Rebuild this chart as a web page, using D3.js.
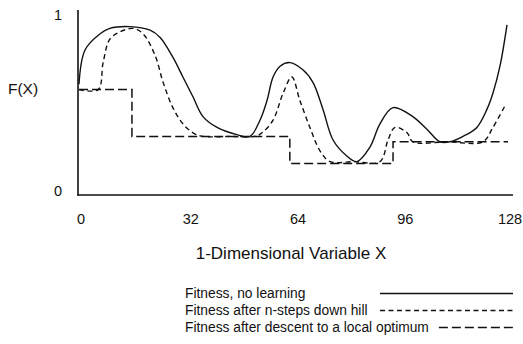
<!DOCTYPE html>
<html>
<head>
<meta charset="utf-8">
<script src="https://cdnjs.cloudflare.com/ajax/libs/d3/7.8.5/d3.min.js"></script>
<style>
  body { margin: 0; background: #fff; }
  svg { display: block; font-family: "Liberation Sans", Arial, sans-serif; }
</style>
</head>
<body>
<svg width="523" height="344"></svg>
<script>
// data (x in 0..128, F(X) in 0..1)
const noLearnX = [0, 1.8, 6.3, 9.2, 15.2, 21.2, 24.2, 28.0, 31.0, 34.0, 37.0, 41.2, 47.1, 51.0, 54.0, 56.1, 57.9, 60.0, 62.9, 66.8, 69.8, 72.8, 75.8, 80.0, 82.9, 86.8, 89.8, 93.7, 99.6, 103.8, 107.7, 110.7, 114.6, 118.7, 121.7, 123.5, 125.6, 127.7];
const noLearnY = [0.61, 0.80, 0.89, 0.92, 0.93, 0.91, 0.87, 0.76, 0.65, 0.54, 0.43, 0.37, 0.33, 0.32, 0.41, 0.52, 0.65, 0.71, 0.73, 0.69, 0.62, 0.47, 0.30, 0.21, 0.18, 0.26, 0.39, 0.48, 0.43, 0.36, 0.29, 0.29, 0.32, 0.37, 0.47, 0.56, 0.71, 0.94];

const nStepsX = [0, 5.7, 7.2, 9.2, 12.2, 16.1, 19.1, 22.7, 25.1, 28.0, 31.0, 34.0, 37.0, 45.0, 52.5, 54.6, 57.9, 60.9, 63.5, 65.9, 68.9, 71.9, 74.9, 82.0, 89.8, 92.2, 94.3, 97.9, 99.6, 110.0, 120.5, 123.5, 127.1];
const nStepsY = [0.58, 0.58, 0.73, 0.86, 0.90, 0.92, 0.89, 0.77, 0.62, 0.48, 0.39, 0.34, 0.32, 0.32, 0.32, 0.34, 0.41, 0.56, 0.65, 0.52, 0.37, 0.24, 0.18, 0.18, 0.18, 0.30, 0.37, 0.34, 0.29, 0.29, 0.29, 0.37, 0.49];

const localX = [0, 15.8, 62.9, 93.7, 128];
const localY = [0.58, 0.32, 0.17, 0.29, 0.29];

const xTicks = [0, 32, 64, 96, 128];
const yTicks = [0, 1];
const legendLabels = [
  "Fitness, no learning",
  "Fitness after n-steps down hill",
  "Fitness after descent to a local optimum"
];

const svg = d3.select("svg");
const ink = "#111";

const x = d3.scaleLinear().domain([0, 128]).range([79, 508]);
const y = d3.scaleLinear().domain([0, 1]).range([194, 14]);

// axes
const xAxis = svg.append("g")
  .attr("transform", `translate(0,${y(0) + 1})`)
  .call(d3.axisBottom(x).tickValues(xTicks).tickFormat(d3.format("d")).tickSize(0).tickPadding(19));
xAxis.select(".domain").remove();
xAxis.selectAll(".tick text")
  .attr("font-size", 14.5).attr("fill", ink)
  .attr("dx", (d) => d === 0 || d === 128 ? 1.5 : 4)
  .attr("font-family", "Liberation Sans, Arial, sans-serif");

const yAxis = svg.append("g")
  .attr("transform", `translate(${x(0) - 1},0)`)
  .call(d3.axisLeft(y).tickValues(yTicks).tickFormat(d3.format("d")).tickSize(0).tickPadding(16));
yAxis.select(".domain").remove();
yAxis.selectAll(".tick text")
  .attr("font-size", 14.5).attr("fill", ink)
  .attr("dy", (d) => d === 0 ? "0.1em" : "0.4em")
  .attr("font-family", "Liberation Sans, Arial, sans-serif");

// axis lines
svg.append("line")
  .attr("x1", x(0) - 1).attr("x2", x(0) - 1)
  .attr("y1", y(1) - 4).attr("y2", y(0) + 1.5)
  .attr("stroke", ink).attr("stroke-width", 1.6);
svg.append("line")
  .attr("x1", x(0) - 1.8).attr("x2", x(129.5))
  .attr("y1", y(0) + 1).attr("y2", y(0) + 1)
  .attr("stroke", ink).attr("stroke-width", 1.6);

svg.append("text")
  .attr("x", 23).attr("y", 94)
  .attr("text-anchor", "middle").attr("font-size", 15.5).attr("fill", ink)
  .text("F(X)");

svg.append("text")
  .attr("x", 291).attr("y", 259)
  .attr("text-anchor", "middle").attr("font-size", 17).attr("fill", ink)
  .text("1-Dimensional Variable X");

// curves
const smooth = d3.line().x((d) => x(d[0])).y((d) => y(d[1])).curve(d3.curveCatmullRom.alpha(0.5));
const steps = d3.line().x((d) => x(d[0])).y((d) => y(d[1])).curve(d3.curveStepAfter);

const styles = [
  { dash: null },
  { dash: "5,3.5" },
  { dash: "9,4" }
];

svg.append("path")
  .datum(d3.zip(localX, localY))
  .attr("d", steps)
  .attr("fill", "none").attr("stroke", ink).attr("stroke-width", 1.5)
  .attr("stroke-dasharray", styles[2].dash);

svg.append("path")
  .datum(d3.zip(nStepsX, nStepsY))
  .attr("d", smooth)
  .attr("fill", "none").attr("stroke", ink).attr("stroke-width", 1.4)
  .attr("stroke-dasharray", styles[1].dash);

svg.append("path")
  .datum(d3.zip(noLearnX, noLearnY))
  .attr("d", smooth)
  .attr("fill", "none").attr("stroke", ink).attr("stroke-width", 1.4);

// legend
const legend = svg.append("g");
legendLabels.forEach((label, i) => {
  const ty = 298 + i * 17;
  const t = legend.append("text")
    .attr("x", 185).attr("y", ty)
    .attr("font-size", 13.8).attr("fill", ink)
    .text(label);
  const end = t.node().getComputedTextLength() + 185;
  legend.append("line")
    .attr("x1", Math.max(380, end + 10)).attr("x2", 513)
    .attr("y1", ty - 4.5).attr("y2", ty - 4.5)
    .attr("stroke", ink).attr("stroke-width", 1.4)
    .attr("stroke-dasharray", styles[i].dash);
});
</script>
</body>
</html>
